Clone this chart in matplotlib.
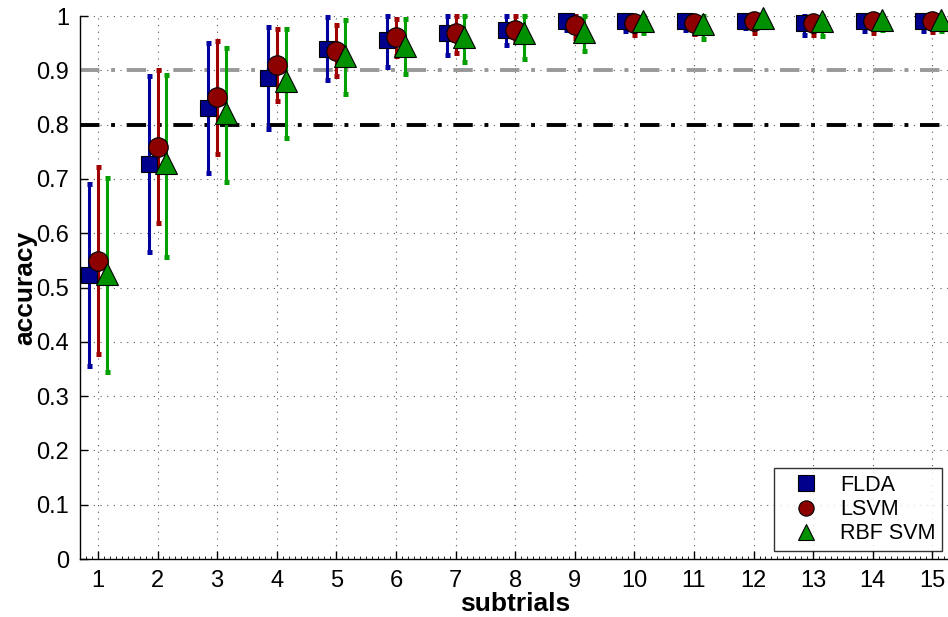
import numpy as np
import matplotlib
matplotlib.use("Agg")
import matplotlib.pyplot as plt
from matplotlib.ticker import MultipleLocator

plt.rcParams['font.family'] = ['Liberation Sans', 'DejaVu Sans']

subtrials = np.arange(1, 16)

# mean accuracy and lower / upper error-bar ends per classifier
flda_mean = [0.523, 0.727, 0.830, 0.886, 0.940, 0.955, 0.968, 0.974, 0.991, 0.991, 0.991, 0.991, 0.988, 0.991, 0.991]
flda_low  = [0.355, 0.565, 0.711, 0.792, 0.882, 0.906, 0.929, 0.947, 0.974, 0.973, 0.974, 0.978, 0.965, 0.973, 0.973]
flda_high = [0.691, 0.889, 0.951, 0.980, 0.998, 1.000, 1.000, 1.000, 1.000, 1.000, 1.000, 1.000, 1.000, 1.000, 1.000]

lsvm_mean = [0.549, 0.759, 0.851, 0.909, 0.936, 0.962, 0.968, 0.975, 0.983, 0.988, 0.988, 0.990, 0.988, 0.991, 0.990]
lsvm_low  = [0.378, 0.619, 0.746, 0.843, 0.889, 0.926, 0.932, 0.953, 0.959, 0.966, 0.967, 0.969, 0.965, 0.969, 0.970]
lsvm_high = [0.722, 0.900, 0.954, 0.976, 0.984, 0.995, 1.000, 1.000, 1.000, 1.000, 1.000, 1.000, 1.000, 1.000, 1.000]

rbf_mean = [0.525, 0.729, 0.822, 0.880, 0.926, 0.945, 0.962, 0.968, 0.971, 0.990, 0.986, 0.996, 0.991, 0.993, 0.993]
rbf_low  = [0.344, 0.557, 0.695, 0.776, 0.857, 0.894, 0.916, 0.921, 0.936, 0.968, 0.957, 0.979, 0.963, 0.974, 0.973]
rbf_high = [0.702, 0.892, 0.942, 0.977, 0.993, 0.994, 1.000, 1.000, 1.000, 1.000, 1.000, 1.000, 1.000, 1.000, 1.000]

labels = ['FLDA', 'LSVM', 'RBF SVM']
y_ticks = np.round(np.arange(0, 1.01, 0.1), 1)
y_tick_labels = ['0', '0.1', '0.2', '0.3', '0.4', '0.5', '0.6', '0.7', '0.8', '0.9', '1']

series = [
    (flda_mean, flda_low, flda_high, -0.15, 's', '#0000a0', '#00008c', 12),
    (lsvm_mean, lsvm_low, lsvm_high, 0.0, 'o', '#a00000', '#8c0000', 14),
    (rbf_mean, rbf_low, rbf_high, 0.15, '^', '#00a000', '#009000', 16),
]

fig = plt.figure(figsize=(9.48, 6.17), dpi=100)
ax = fig.add_axes([0.0844, 0.094, 0.918, 0.880])

# reference levels
ax.axhline(0.9, color='#999999', lw=2.8, ls=(0, (5, 3, 1, 3)), zorder=1)
ax.axhline(0.8, color='black', lw=2.8, ls=(0, (5, 3, 1, 3)), zorder=1)

handles = []
for mean, low, high, off, mk, ecol, fcol, ms in series:
    m = np.asarray(mean)
    lo = m - np.asarray(low)
    hi = np.asarray(high) - m
    x = subtrials + off
    eb = ax.errorbar(x, m, yerr=[lo, hi], fmt='none', ecolor=ecol, elinewidth=2.2,
                     capsize=1.8, capthick=3.6, zorder=3)
    for art in eb.lines[1]:
        art.set_clip_on(False)
    for art in eb.lines[2]:
        art.set_clip_on(False)
    h, = ax.plot(x, m, ls='none', marker=mk, ms=ms, mfc=fcol, mec='black',
                 mew=0.8, zorder=4, clip_on=False)
    handles.append(h)

ax.set_xlim(0.7, 15.3)
ax.set_ylim(0, 1)
ax.set_xticks(subtrials)
ax.set_xticklabels([str(v) for v in subtrials])
ax.set_yticks(y_ticks)
ax.set_yticklabels(y_tick_labels)
ax.xaxis.set_minor_locator(MultipleLocator(0.1))

ax.tick_params(axis='both', which='major', direction='in', length=6, width=1,
               labelsize=17, pad=8)
ax.tick_params(axis='x', which='minor', direction='in', length=2, width=0.6)
ax.tick_params(axis='y', which='minor', left=False)

ax.grid(True, which='major', ls=(0, (1, 5)), color='#555555', lw=0.8)
ax.set_axisbelow(True)
for s in ['top', 'right']:
    ax.spines[s].set_visible(False)
for s in ['left', 'bottom']:
    ax.spines[s].set_linewidth(1.0)

ax.set_xlabel('subtrials', fontsize=19, fontweight='bold', labelpad=0)
ax.set_ylabel('accuracy', fontsize=19, fontweight='bold', labelpad=-1)

leg = ax.legend(handles, labels, loc='lower right', fontsize=15.5, frameon=True,
                fancybox=False, edgecolor='black', handlelength=2.4,
                handletextpad=0.4, borderpad=0.3, labelspacing=0.15,
                borderaxespad=0, bbox_to_anchor=(0.991, 0.015))
leg.get_frame().set_linewidth(1.0)
for h in leg.legend_handles:
    h.set_markersize(11)

fig.savefig('out.png', dpi=100)
